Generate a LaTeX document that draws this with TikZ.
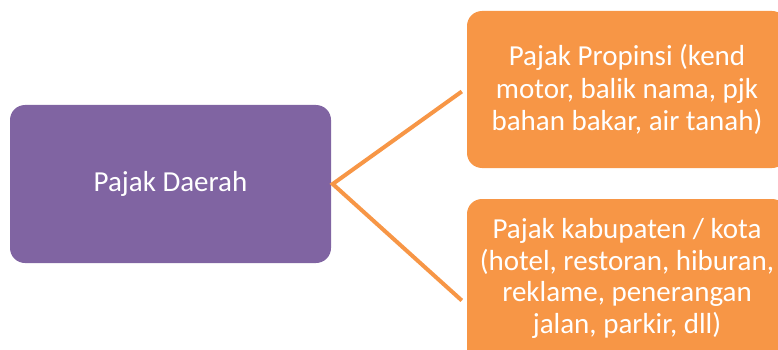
\documentclass[tikz,border=0pt]{standalone}
\usepackage{fontspec}
\setmainfont{Carlito}
\definecolor{pur}{HTML}{8064A2}
\definecolor{org}{HTML}{F79646}
\begin{document}
\begin{tikzpicture}[x=1pt,y=-1pt,
  box/.style={rounded corners=15pt, inner sep=0pt, text=white, align=center,
    font=\fontsize{29}{31.5}\selectfont},
  txt/.style={inner sep=0pt, text=white, align=center, font=\fontsize{29}{31.5}\selectfont},
  link/.style={draw=org, line width=4pt}]
\useasboundingbox (0,0) rectangle (778,350);
\clip (0,0) rectangle (778,350);
\node[box, fill=pur, minimum width=321pt, minimum height=158pt] (pd) at (170.5,184) {Pajak Daerah};
\node[box, fill=org, minimum width=320pt, minimum height=157pt] (pp) at (627,89.5)
  {Pajak Propinsi (kend\\[1pt]motor, balik nama, pjk\\[1pt]bahan bakar, air tanah)};
\node[box, fill=org, minimum width=320pt, minimum height=180pt] (pk) at (627,289) {};
\node[txt] (pkt) at (627,278.5)
  {Pajak kabupaten / kota\\(hotel, restoran, hiburan,\\reklame, penerangan\\jalan, parkir, dll)};
\coordinate (e1) at ([xshift=-5pt,yshift=-2pt]pp.west);
\coordinate (e2) at ([xshift=-5pt,yshift=-11.5pt]pk.west);
\draw[link] (e1) -- ([xshift=1.5pt]pd.east) -- (e2);
\end{tikzpicture}
\end{document}
